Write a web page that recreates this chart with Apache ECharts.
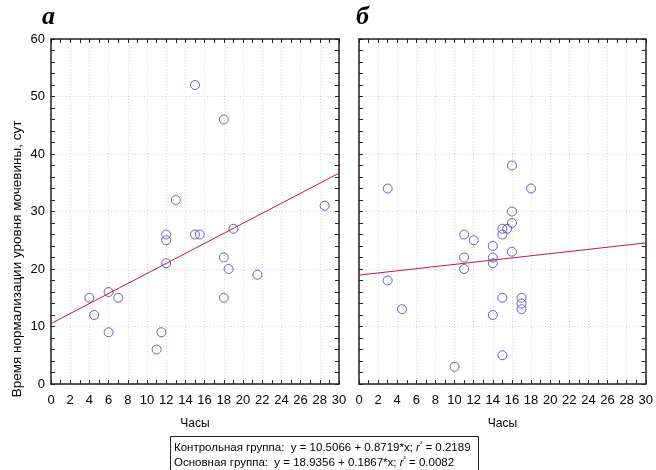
<!DOCTYPE html>
<html>
<head>
<meta charset="utf-8">
<script src="https://cdn.jsdelivr.net/npm/echarts@6/dist/echarts.min.js"></script>
<style>
  html, body { margin: 0; padding: 0; background: #fff; }
  #chart { width: 656px; height: 470px; }
</style>
</head>
<body>
<div id="chart"></div>
<script>
  // контрольная группа (а)
  const controlPoints = [
    [15, 52], [18, 46], [13, 32], [28.5, 31], [12, 26], [12, 25], [15, 26],
    [15.5, 26], [19, 27], [12, 21], [18, 22], [18.5, 20], [21.5, 19], [18, 15],
    [4, 15], [6, 16], [7, 15], [4.5, 12], [6, 9], [11.5, 9], [11, 6]
  ]
  // основная группа (б)
  const mainPoints = [
    [3, 34], [16, 38], [18, 34], [16, 30], [16, 28], [15, 27], [15.5, 27],
    [15, 26], [11, 26], [12, 25], [14, 24], [16, 23], [11, 22], [14, 22],
    [14, 21], [11, 20], [3, 18], [15, 15], [17, 15], [17, 14], [17, 13],
    [4.5, 13], [14, 12], [15, 5], [10, 3]
  ]
  // y = a + b*x
  const controlFit = [10.5066, 0.8719]
  const mainFit = [18.9356, 0.1867]
  const xRange = [0, 30]

  const fitLine = (fit) => xRange.map(x => [x, fit[0] + fit[1] * x])

  const font = 'Liberation Sans, Arial, sans-serif'
  const axisColor = '#222'

  const chart = echarts.init(document.getElementById('chart'))

  // основная ось X (снизу)
  const bottomX = (gridIndex) => ({
    type: 'value', gridIndex, position: 'bottom',
    min: 0, max: 30, interval: 2,
    name: 'Часы', nameLocation: 'middle', nameGap: 34,
    nameTextStyle: { fontFamily: font, fontSize: 12, color: '#000' },
    axisLine: { show: true, onZero: false, lineStyle: { color: axisColor, width: 1.5 } },
    axisTick: { show: true, inside: true, length: 4, lineStyle: { color: axisColor } },
    minorTick: { show: true, splitNumber: 2, length: 4, lineStyle: { color: axisColor } },
    axisLabel: { fontFamily: font, fontSize: 13, color: '#000', margin: 10 },
    splitLine: { show: true, lineStyle: { color: '#d4d4d4', type: [1, 2] } }
  })
  // верхняя ось X (только риски)
  const topX = (gridIndex) => ({
    type: 'value', gridIndex, position: 'top',
    min: 0, max: 30, interval: 2,
    axisLine: { show: true, onZero: false, lineStyle: { color: axisColor, width: 1.5 } },
    axisTick: { show: true, inside: true, length: 4, lineStyle: { color: axisColor } },
    minorTick: { show: true, splitNumber: 2, length: 4, lineStyle: { color: axisColor } },
    axisLabel: { show: false },
    splitLine: { show: false }
  })
  const leftY = (gridIndex, withLabels) => ({
    type: 'value', gridIndex, position: 'left',
    min: 0, max: 60, interval: 10,
    axisLine: { show: true, onZero: false, lineStyle: { color: axisColor, width: 1.5 } },
    axisTick: { show: true, inside: true, length: 4, lineStyle: { color: axisColor } },
    minorTick: { show: true, splitNumber: 5, length: 4, lineStyle: { color: axisColor } },
    axisLabel: { show: withLabels, fontFamily: font, fontSize: 13, color: '#000', margin: 6 },
    splitLine: { show: true, lineStyle: { color: '#d4d4d4', type: [1, 2] } }
  })
  const rightY = (gridIndex) => ({
    type: 'value', gridIndex, position: 'right',
    min: 0, max: 60, interval: 10,
    axisLine: { show: true, onZero: false, lineStyle: { color: axisColor, width: 1.5 } },
    axisTick: { show: true, inside: true, length: 4, lineStyle: { color: axisColor } },
    minorTick: { show: true, splitNumber: 5, length: 4, lineStyle: { color: axisColor } },
    axisLabel: { show: false },
    splitLine: { show: false }
  })

  const scatter = (idx, data) => ({
    type: 'scatter', xAxisIndex: idx, yAxisIndex: idx, data,
    symbol: 'circle', symbolSize: 9,
    itemStyle: { color: 'rgba(255,255,255,0)', borderColor: '#4040a8', borderWidth: 1 },
    silent: true, z: 3
  })
  const line = (idx, fit) => ({
    type: 'line', xAxisIndex: idx, yAxisIndex: idx, data: fitLine(fit),
    symbol: 'none', lineStyle: { color: '#cc1144', width: 1 }, silent: true, z: 2
  })

  chart.setOption({
    animation: false,
    grid: [
      { left: 51, top: 39, width: 288, height: 345 },
      { left: 359, top: 39, width: 287, height: 345 }
    ],
    xAxis: [bottomX(0), bottomX(1), topX(0), topX(1)],
    yAxis: [leftY(0, true), leftY(1, false), rightY(0), rightY(1)],
    series: [
      line(0, controlFit), scatter(0, controlPoints),
      line(1, mainFit), scatter(1, mainPoints)
    ],
    graphic: [
      { type: 'text', left: 42, top: 4, style: { text: 'а', fontFamily: 'Liberation Serif, serif', fontStyle: 'italic', fontWeight: 'bold', fontSize: 26, fill: '#000' } },
      { type: 'text', left: 356, top: 4, style: { text: 'б', fontFamily: 'Liberation Serif, serif', fontStyle: 'italic', fontWeight: 'bold', fontSize: 26, fill: '#000' } },
      {
        type: 'text', x: 17, y: 259, rotation: Math.PI / 2,
        style: {
          text: 'Время нормализации уровня мочевины, сут',
          fontFamily: font, fontSize: 13.5, fill: '#000',
          align: 'center', verticalAlign: 'middle'
        }
      },
      { type: 'rect', shape: { x: 170.5, y: 436.5, width: 308, height: 40 }, style: { fill: '#fff', stroke: '#222', lineWidth: 1 } },
      {
        type: 'text', left: 174, top: 440,
        style: {
          text: 'Контрольная группа:  y = ' + controlFit[0] + ' + ' + controlFit[1] + '*x; {i|r}{s|²} = 0.2189\n' +
                'Основная группа:  y = ' + mainFit[0] + ' + ' + mainFit[1] + '*x; {i|r}{s|²} = 0.0082',
          fontFamily: font, fontSize: 11.5, lineHeight: 15, fill: '#000',
          rich: {
            i: { fontStyle: 'italic', fontFamily: font, fontSize: 11.5, lineHeight: 15 },
            s: { fontFamily: font, fontSize: 7, lineHeight: 15, verticalAlign: 'top' }
          }
        }
      }
    ]
  })
</script>
</body>
</html>
